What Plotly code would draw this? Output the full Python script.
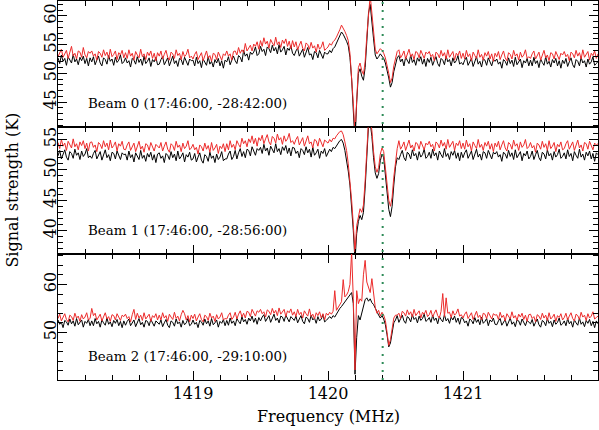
import plotly.graph_objects as go
from plotly.subplots import make_subplots

# ---- data -------------------------------------------------------------
FREQ_START = 1418.0
FREQ_STEP = 0.0125
N_CHAN = 321
FREQ = [round(FREQ_START + FREQ_STEP * i, 5) for i in range(N_CHAN)]

B0_BLACK = [
    52.7, 51.7, 53.2, 52.1, 52.6, 51.4, 52.9, 52.3, 51.8, 53.3, 52.0, 52.5, 51.5, 52.8, 52.2, 53.0, 51.7, 52.6, 51.3, 52.7,
    52.0, 52.9, 51.5, 52.3, 53.0, 51.8, 51.3, 52.7, 52.4, 51.6, 53.1, 52.1, 52.5, 51.4, 52.8, 51.9, 52.3, 53.2, 51.7, 52.0,
    52.7, 51.8, 52.2, 51.1, 52.6, 52.3, 51.6, 52.9, 51.9, 52.5, 51.4, 53.0, 51.7, 52.1, 52.7, 51.2, 52.4, 52.0, 52.8, 51.5,
    51.6, 52.4, 52.9, 51.5, 52.0, 52.7, 51.3, 52.3, 53.0, 51.7, 52.2, 51.2, 52.6, 52.4, 51.5, 52.8, 51.9, 51.4, 52.5, 52.2,
    52.3, 51.3, 52.8, 51.7, 52.2, 51.0, 52.5, 51.9, 51.4, 52.9, 51.6, 52.1, 51.1, 52.4, 51.8, 52.6, 51.3, 52.2, 50.9, 52.3,
    52.0, 52.9, 51.5, 52.3, 53.0, 52.2, 51.7, 53.1, 52.8, 52.0, 54.0, 53.0, 53.4, 52.3, 53.7, 53.3, 53.7, 54.6, 53.1, 53.4,
    54.7, 53.8, 54.2, 53.1, 54.6, 54.3, 53.6, 54.9, 53.9, 54.5, 53.4, 55.0, 53.7, 54.1, 54.7, 53.2, 54.4, 54.0, 54.8, 53.5,
    53.1, 53.9, 54.4, 53.0, 53.5, 54.2, 52.8, 53.8, 54.5, 53.2, 53.4, 52.4, 53.8, 53.6, 52.7, 54.0, 53.1, 52.6, 53.7, 53.4,
    53.4, 54.0, 53.6, 54.3, 54.6, 55.2, 55.8, 56.5, 57.2, 56.8, 56.3, 55.6, 54.8, 52.8, 49.0, 44.0, 38.0, 45.0, 50.0, 50.8,
    49.5, 48.8, 51.0, 55.5, 60.5, 62.0, 59.5, 56.0, 53.2, 52.5, 52.9, 53.4, 53.0, 52.6, 51.8, 50.6, 49.2, 47.6, 48.4, 50.3,
    51.6, 52.7, 53.1, 52.0, 52.5, 51.3, 52.8, 52.2, 51.7, 53.2, 51.9, 52.4, 51.4, 52.7, 52.1, 52.9, 51.6, 52.5, 51.2, 52.6,
    51.9, 52.8, 51.4, 52.2, 52.9, 51.7, 51.2, 52.6, 52.3, 51.5, 53.0, 52.0, 52.4, 51.3, 52.7, 51.8, 52.2, 53.1, 51.6, 51.9,
    51.5, 52.3, 52.8, 51.4, 51.9, 52.6, 51.2, 52.2, 52.9, 51.6, 52.1, 51.1, 52.5, 52.3, 51.4, 52.7, 51.8, 51.3, 52.4, 52.1,
    52.5, 51.6, 52.0, 50.9, 52.4, 52.1, 51.4, 52.7, 51.7, 52.3, 51.2, 52.8, 51.5, 51.9, 52.5, 51.0, 52.2, 51.8, 52.6, 51.3,
    52.3, 51.3, 52.8, 51.7, 52.2, 51.0, 52.5, 51.9, 51.4, 52.9, 51.6, 52.1, 51.1, 52.4, 51.8, 52.6, 51.3, 52.2, 50.9, 52.3,
    51.7, 52.6, 51.2, 52.0, 52.7, 51.5, 51.0, 52.4, 52.1, 51.3, 52.8, 51.8, 52.2, 51.1, 52.5, 51.6, 52.0, 52.9, 51.4, 51.7,
    52.1,
]
B0_RED = [
    52.9, 53.7, 54.2, 52.8, 53.3, 54.0, 52.6, 53.6, 54.7, 53.0, 53.5, 52.5, 53.9, 53.7, 52.8, 54.5, 53.2, 52.7, 53.8, 53.5,
    53.9, 53.0, 53.4, 52.3, 53.8, 53.5, 52.8, 54.1, 53.1, 53.7, 52.6, 54.2, 52.9, 53.3, 53.9, 52.4, 53.6, 53.2, 54.0, 52.7,
    53.6, 52.6, 54.1, 53.0, 53.5, 52.3, 53.8, 53.2, 52.7, 54.2, 52.9, 53.4, 52.4, 53.7, 53.1, 53.9, 52.6, 53.5, 52.2, 53.6,
    53.0, 53.9, 52.5, 53.3, 54.0, 52.8, 52.3, 53.7, 53.4, 52.6, 54.1, 53.1, 53.5, 52.4, 53.8, 52.9, 53.3, 54.2, 52.7, 53.0,
    52.5, 53.3, 53.8, 52.4, 52.9, 53.6, 52.2, 53.2, 53.9, 52.6, 53.1, 52.1, 53.5, 53.3, 52.4, 53.7, 52.8, 52.3, 53.4, 53.1,
    53.9, 53.0, 53.4, 52.3, 53.8, 53.9, 53.2, 54.5, 53.5, 54.1, 53.6, 55.2, 53.9, 54.3, 54.9, 53.9, 55.1, 54.7, 55.5, 54.2,
    55.7, 54.7, 56.2, 55.1, 55.6, 54.4, 55.9, 55.3, 54.8, 56.3, 55.0, 55.5, 54.5, 55.8, 55.2, 56.0, 54.7, 55.6, 54.3, 55.7,
    54.6, 55.5, 54.1, 54.9, 55.6, 54.4, 53.9, 55.3, 55.0, 54.2, 55.4, 54.4, 54.8, 53.7, 55.1, 54.2, 54.6, 55.5, 54.0, 54.3,
    54.6, 55.2, 54.9, 55.5, 55.8, 56.3, 56.9, 57.6, 58.4, 57.9, 57.3, 56.6, 55.7, 53.5, 49.8, 44.8, 39.5, 46.0, 51.0, 51.8,
    50.5, 49.8, 52.0, 56.5, 61.5, 63.6, 60.5, 57.0, 54.2, 53.4, 53.8, 54.3, 54.0, 53.5, 52.7, 51.5, 50.0, 48.4, 49.2, 51.3,
    52.6, 53.8, 54.1, 52.7, 53.2, 53.9, 52.5, 53.5, 54.2, 52.9, 53.4, 52.4, 53.8, 53.6, 52.7, 54.0, 53.1, 52.6, 53.7, 53.4,
    53.8, 52.9, 53.3, 52.2, 53.7, 53.4, 52.7, 54.0, 53.0, 53.6, 52.5, 54.1, 52.8, 53.2, 53.8, 52.3, 53.5, 53.1, 53.9, 52.6,
    53.5, 52.5, 54.0, 52.9, 53.4, 52.2, 53.7, 53.1, 52.6, 54.1, 52.8, 53.3, 52.3, 53.6, 53.0, 53.8, 52.5, 53.4, 52.1, 53.5,
    52.9, 53.8, 52.4, 53.2, 53.9, 52.7, 52.2, 53.6, 53.3, 52.5, 54.0, 53.0, 53.4, 52.3, 53.7, 52.8, 53.2, 54.1, 52.6, 52.9,
    52.6, 53.4, 53.9, 52.5, 53.0, 53.7, 52.3, 53.3, 54.0, 52.7, 53.2, 52.2, 53.6, 53.4, 52.5, 53.8, 52.9, 52.4, 53.5, 53.2,
    53.8, 52.9, 53.3, 52.2, 53.7, 53.4, 52.7, 54.0, 53.0, 53.6, 52.5, 54.1, 52.8, 53.2, 53.8, 52.3, 53.5, 53.1, 53.9, 52.6,
    53.4,
]
B1_BLACK = [
    52.3, 53.2, 51.8, 52.6, 53.3, 52.1, 51.6, 53.0, 52.7, 51.9, 53.4, 52.4, 52.8, 51.7, 53.1, 52.2, 52.6, 53.5, 52.0, 52.3,
    51.9, 52.7, 53.2, 51.8, 52.3, 53.0, 51.6, 52.6, 53.3, 52.0, 52.5, 51.5, 52.9, 52.7, 51.8, 53.1, 52.2, 51.7, 52.8, 52.5,
    52.6, 51.6, 53.1, 52.0, 52.5, 51.3, 52.8, 52.2, 51.7, 53.2, 51.9, 52.4, 51.4, 52.7, 52.1, 52.9, 51.6, 52.5, 51.2, 52.6,
    52.8, 51.9, 52.3, 51.2, 52.7, 52.4, 51.7, 53.0, 52.0, 52.6, 51.5, 53.1, 51.8, 52.2, 52.8, 51.3, 52.5, 52.1, 52.9, 51.6,
    51.8, 52.7, 51.3, 52.1, 52.8, 51.6, 51.1, 52.5, 52.2, 51.4, 52.9, 51.9, 52.3, 51.2, 52.6, 51.7, 52.1, 53.0, 51.5, 51.8,
    51.8, 52.6, 53.1, 51.7, 52.2, 53.2, 51.8, 52.8, 53.5, 52.2, 53.0, 52.0, 53.4, 53.2, 52.3, 53.8, 52.9, 52.4, 53.5, 53.2,
    53.7, 52.7, 54.2, 53.1, 53.6, 52.4, 53.9, 53.3, 52.8, 54.3, 53.0, 53.5, 52.5, 53.8, 53.2, 54.0, 52.7, 53.6, 52.3, 53.7,
    53.6, 52.7, 53.1, 52.0, 53.5, 53.2, 52.5, 53.8, 52.8, 53.4, 52.1, 53.7, 52.4, 52.8, 53.4, 51.9, 53.1, 52.7, 53.5, 52.2,
    52.9, 53.4, 53.0, 53.7, 53.5, 54.0, 54.3, 54.8, 55.0, 54.4, 53.2, 51.8, 49.8, 47.5, 44.0, 40.0, 35.0, 39.5, 41.5, 42.5,
    41.8, 43.0, 47.0, 52.5, 57.3, 57.8, 55.5, 52.0, 49.5, 48.6, 49.4, 51.5, 52.6, 52.0, 49.5, 46.5, 43.5, 42.3, 44.0, 47.5,
    50.5, 52.0, 51.7, 52.5, 53.2, 52.0, 51.5, 52.9, 52.6, 51.8, 53.3, 52.3, 52.7, 51.6, 53.0, 52.1, 52.5, 53.4, 51.9, 52.2,
    52.9, 51.9, 53.4, 52.3, 52.8, 51.6, 53.1, 52.5, 52.0, 53.5, 52.2, 52.7, 51.7, 53.0, 52.4, 53.2, 51.9, 52.8, 51.5, 52.9,
    52.0, 52.8, 53.3, 51.9, 52.4, 53.1, 51.7, 52.7, 53.4, 52.1, 52.6, 51.6, 53.0, 52.8, 51.9, 53.2, 52.3, 51.8, 52.9, 52.6,
    53.0, 52.1, 52.5, 51.4, 52.9, 52.6, 51.9, 53.2, 52.2, 52.8, 51.7, 53.3, 52.0, 52.4, 53.0, 51.5, 52.7, 52.3, 53.1, 51.8,
    52.2, 53.1, 51.7, 52.5, 53.2, 52.0, 51.5, 52.9, 52.6, 51.8, 53.3, 52.3, 52.7, 51.6, 53.0, 52.1, 52.5, 53.4, 51.9, 52.2,
    52.8, 51.8, 53.3, 52.2, 52.7, 51.5, 53.0, 52.4, 51.9, 53.4, 52.1, 52.6, 51.6, 52.9, 52.3, 53.1, 51.8, 52.7, 51.4, 52.8,
    52.5,
]
B1_RED = [
    54.5, 53.5, 55.0, 53.9, 54.4, 53.2, 54.7, 54.1, 53.6, 55.1, 53.8, 54.3, 53.3, 54.6, 54.0, 54.8, 53.5, 54.4, 53.1, 54.5,
    54.6, 53.7, 54.1, 53.0, 54.5, 54.2, 53.5, 54.8, 53.8, 54.4, 53.3, 54.9, 53.6, 54.0, 54.6, 53.1, 54.3, 53.9, 54.7, 53.4,
    53.3, 54.1, 54.6, 53.2, 53.7, 54.4, 53.0, 54.0, 54.7, 53.4, 53.9, 52.9, 54.3, 54.1, 53.2, 54.5, 53.6, 53.1, 54.2, 53.9,
    53.6, 54.5, 53.1, 53.9, 54.6, 53.4, 52.9, 54.3, 54.0, 53.2, 54.7, 53.7, 54.1, 53.0, 54.4, 53.5, 53.9, 54.8, 53.3, 53.6,
    54.2, 53.3, 53.7, 52.6, 54.1, 53.8, 53.1, 54.4, 53.4, 54.0, 52.9, 54.5, 53.2, 53.6, 54.2, 52.7, 53.9, 53.5, 54.3, 53.0,
    54.3, 53.3, 54.8, 53.7, 54.2, 53.3, 54.8, 54.2, 53.7, 55.2, 54.3, 54.8, 53.8, 55.1, 54.5, 55.6, 54.3, 55.2, 53.9, 55.3,
    54.8, 55.7, 54.3, 55.1, 55.8, 54.6, 54.1, 55.5, 55.2, 54.4, 55.9, 54.9, 55.3, 54.2, 55.6, 54.7, 55.1, 56.0, 54.5, 54.8,
    54.2, 55.0, 55.5, 54.1, 54.6, 55.3, 53.9, 54.9, 55.6, 54.3, 54.6, 53.6, 55.0, 54.8, 53.9, 55.2, 54.3, 53.8, 54.9, 54.6,
    54.4, 55.0, 54.6, 55.2, 55.1, 55.6, 55.9, 56.3, 56.4, 55.8, 54.6, 53.2, 51.0, 48.5, 45.0, 41.0, 36.5, 40.8, 42.6, 43.6,
    43.0, 44.2, 48.2, 53.8, 58.0, 58.5, 56.5, 53.0, 50.5, 49.6, 50.4, 52.6, 53.6, 53.0, 50.6, 47.8, 45.0, 44.0, 45.5, 48.8,
    51.8, 53.5, 54.8, 53.4, 53.9, 54.6, 53.2, 54.2, 54.9, 53.6, 54.1, 53.1, 54.5, 54.3, 53.4, 54.7, 53.8, 53.3, 54.4, 54.1,
    54.7, 53.8, 54.2, 53.1, 54.6, 54.3, 53.6, 54.9, 53.9, 54.5, 53.4, 55.0, 53.7, 54.1, 54.7, 53.2, 54.4, 54.0, 54.8, 53.5,
    54.4, 53.4, 54.9, 53.8, 54.3, 53.1, 54.6, 54.0, 53.5, 55.0, 53.7, 54.2, 53.2, 54.5, 53.9, 54.7, 53.4, 54.3, 53.0, 54.4,
    53.8, 54.7, 53.3, 54.1, 54.8, 53.6, 53.1, 54.5, 54.2, 53.4, 54.9, 53.9, 54.3, 53.2, 54.6, 53.7, 54.1, 55.0, 53.5, 53.8,
    54.5, 53.6, 54.0, 52.9, 54.4, 54.1, 53.4, 54.7, 53.7, 54.3, 53.2, 54.8, 53.5, 53.9, 54.5, 53.0, 54.2, 53.8, 54.6, 53.3,
    53.5, 54.3, 54.8, 53.4, 53.9, 54.6, 53.2, 54.2, 54.9, 53.6, 54.1, 53.1, 54.5, 54.3, 53.4, 54.7, 53.8, 53.3, 54.4, 54.1,
    54.3,
]
B2_BLACK = [
    52.6, 51.7, 52.1, 51.0, 52.5, 52.2, 51.5, 52.8, 51.8, 52.4, 51.3, 52.9, 51.6, 52.0, 52.6, 51.1, 52.3, 51.9, 52.7, 51.4,
    52.4, 51.4, 52.9, 51.8, 52.3, 51.1, 52.6, 52.0, 51.5, 53.0, 51.7, 52.2, 51.2, 52.5, 51.9, 52.7, 51.4, 52.3, 51.0, 52.4,
    51.5, 52.3, 52.8, 51.4, 51.9, 52.6, 51.2, 52.2, 52.9, 51.6, 52.1, 51.1, 52.5, 52.3, 51.4, 52.7, 51.8, 51.3, 52.4, 52.1,
    51.7, 52.6, 51.2, 52.0, 52.7, 51.5, 51.0, 52.4, 52.1, 51.3, 52.8, 51.8, 52.2, 51.1, 52.5, 51.6, 52.0, 52.9, 51.4, 51.7,
    52.6, 51.7, 52.1, 51.0, 52.5, 52.2, 51.5, 52.8, 51.8, 52.4, 51.3, 52.9, 51.6, 52.0, 52.6, 51.1, 52.3, 51.9, 52.7, 51.4,
    52.5, 51.5, 53.0, 51.9, 52.4, 51.4, 52.9, 52.3, 51.8, 53.3, 52.2, 52.7, 51.7, 53.0, 52.4, 53.4, 52.1, 53.0, 51.7, 53.1,
    52.4, 53.2, 53.7, 52.3, 52.8, 53.5, 52.1, 53.1, 53.8, 52.5, 53.0, 52.0, 53.4, 53.2, 52.3, 53.6, 52.7, 52.2, 53.3, 53.0,
    52.5, 53.4, 52.0, 52.8, 53.5, 52.3, 51.8, 53.2, 52.9, 52.1, 53.6, 52.6, 53.0, 51.9, 53.3, 52.4, 52.8, 53.7, 52.2, 52.5,
    52.8, 53.3, 52.9, 53.5, 53.2, 53.9, 54.5, 55.0, 55.4, 55.9, 56.4, 56.8, 57.4, 58.0, 58.3, 56.0, 41.3, 49.0, 53.5, 52.6,
    54.0, 55.5, 56.8, 57.2, 56.5, 57.0, 56.2, 55.8, 55.0, 54.2, 53.6, 53.0, 53.5, 52.8, 51.6, 49.5, 47.0, 47.8, 50.0, 52.0,
    52.6, 53.5, 52.1, 52.9, 53.6, 52.4, 51.9, 53.3, 53.0, 52.2, 53.7, 52.7, 53.1, 52.0, 53.4, 52.5, 52.9, 53.8, 52.3, 52.6,
    53.1, 52.1, 53.6, 52.5, 53.0, 51.8, 53.3, 52.7, 52.2, 53.7, 52.4, 52.9, 51.9, 53.2, 52.6, 53.4, 52.1, 53.0, 51.7, 53.1,
    52.9, 52.0, 52.4, 51.3, 52.8, 52.5, 51.8, 53.1, 52.1, 52.7, 51.6, 53.2, 51.9, 52.3, 52.9, 51.4, 52.6, 52.2, 53.0, 51.7,
    51.6, 52.4, 52.9, 51.5, 52.0, 52.7, 51.3, 52.3, 53.0, 51.7, 52.2, 51.2, 52.6, 52.4, 51.5, 52.8, 51.9, 51.4, 52.5, 52.2,
    51.8, 52.7, 51.3, 52.1, 52.8, 51.6, 51.1, 52.5, 52.2, 51.4, 52.9, 51.9, 52.3, 51.2, 52.6, 51.7, 52.1, 53.0, 51.5, 51.8,
    52.4, 51.4, 52.9, 51.8, 52.3, 51.1, 52.6, 52.0, 51.5, 53.0, 51.7, 52.2, 51.2, 52.5, 51.9, 52.7, 51.4, 52.3, 51.0, 52.4,
    51.8,
]
B2_RED = [
    52.9, 53.8, 52.4, 53.2, 53.9, 52.7, 52.2, 53.6, 53.3, 52.5, 54.0, 53.0, 53.4, 52.3, 53.7, 52.8, 53.2, 54.1, 52.6, 52.9,
    55.0, 53.5, 54.0, 52.6, 53.1, 53.8, 52.4, 53.4, 54.1, 52.8, 53.3, 52.3, 53.7, 53.5, 52.6, 53.9, 53.0, 52.5, 53.6, 53.3,
    53.8, 52.9, 53.3, 52.2, 53.7, 54.8, 52.7, 54.0, 53.0, 53.6, 52.5, 54.1, 52.8, 53.2, 53.8, 52.3, 53.5, 53.1, 53.9, 52.6,
    53.6, 52.6, 54.1, 53.0, 53.5, 52.3, 53.8, 53.2, 52.7, 54.2, 52.9, 53.4, 52.4, 53.7, 54.6, 53.9, 52.6, 53.5, 52.2, 53.6,
    52.9, 53.8, 52.4, 53.2, 53.9, 52.7, 52.2, 53.6, 53.3, 52.5, 54.0, 53.0, 53.4, 52.3, 53.7, 52.8, 53.2, 54.1, 52.6, 52.9,
    52.8, 53.6, 54.1, 52.7, 53.2, 54.2, 52.8, 53.8, 54.5, 53.2, 54.0, 53.0, 54.4, 54.2, 53.3, 54.8, 53.9, 53.4, 54.5, 54.2,
    54.8, 53.9, 54.3, 53.2, 54.7, 54.4, 53.7, 55.0, 54.0, 54.6, 53.5, 55.1, 53.8, 54.2, 54.8, 53.3, 54.5, 54.1, 54.9, 53.6,
    54.3, 53.3, 54.8, 53.7, 54.2, 53.0, 54.5, 53.9, 53.4, 54.9, 53.3, 53.8, 52.8, 54.1, 53.5, 54.3, 53.0, 53.9, 52.6, 54.0,
    53.6, 54.2, 53.8, 54.4, 58.7, 54.6, 55.2, 55.8, 56.4, 61.0, 57.4, 57.8, 58.5, 60.0, 66.8, 57.0, 42.2, 58.7, 56.0, 57.0,
    56.5, 62.0, 65.0, 60.5, 59.2, 58.3, 61.2, 57.5, 55.2, 54.0, 54.6, 53.4, 54.2, 53.6, 52.5, 50.0, 47.3, 48.5, 51.0, 53.0,
    53.6, 53.6, 54.0, 52.9, 54.4, 54.1, 53.4, 54.7, 53.7, 54.3, 53.2, 54.8, 53.5, 53.9, 54.5, 53.0, 54.2, 53.8, 54.6, 53.3,
    53.7, 54.6, 53.2, 54.0, 54.7, 53.5, 53.0, 54.4, 58.1, 53.3, 57.2, 54.0, 54.2, 53.1, 54.5, 53.6, 54.0, 54.9, 53.4, 53.7,
    53.0, 53.8, 54.3, 52.9, 53.4, 54.1, 52.7, 53.7, 54.4, 53.1, 53.6, 52.6, 54.0, 53.8, 52.9, 54.2, 53.3, 52.8, 53.9, 53.6,
    53.7, 52.7, 54.2, 53.1, 53.6, 52.4, 53.9, 53.3, 52.8, 54.3, 53.0, 53.5, 52.5, 53.8, 53.2, 54.0, 52.7, 53.6, 52.3, 53.7,
    53.8, 52.9, 53.3, 52.2, 53.7, 53.4, 52.7, 54.0, 53.0, 53.6, 52.5, 54.1, 52.8, 53.2, 53.8, 52.3, 53.5, 53.1, 53.9, 52.6,
    53.1, 54.0, 52.6, 53.4, 54.1, 52.9, 52.4, 53.8, 53.5, 52.7, 54.2, 53.2, 53.6, 52.5, 53.9, 53.0, 53.4, 54.3, 52.8, 53.1,
    53.4,
]

BEAM_LABELS = [
    "Beam 0 (17:46:00, -28:42:00)",
    "Beam 1 (17:46:00, -28:56:00)",
    "Beam 2 (17:46:00, -29:10:00)",
]
X_TICKS = [1419, 1420, 1421]
Y_RANGES = [[40.6, 62.6], [36.2, 57.0], [40.1, 66.4]]
Y_TICKS = [[45, 50, 55, 60], [40, 45, 50, 55], [50, 60]]
Y_MINOR = [1, 1, 2]
REST_FREQ = 1420.405
X_RANGE = [1418.0, 1422.0]

# ---- figure -----------------------------------------------------------
FONT = "DejaVu Serif"
RED = "#ec2b2b"
DOMAINS = [[2 / 3, 1.0], [1 / 3, 2 / 3], [0.0, 1 / 3]]

fig = make_subplots(rows=3, cols=1, shared_xaxes=True, vertical_spacing=0)

series = [(B0_BLACK, B0_RED), (B1_BLACK, B1_RED), (B2_BLACK, B2_RED)]
for r, (blk, red) in enumerate(series, start=1):
    fig.add_trace(go.Scatter(x=FREQ, y=blk, mode="lines",
                             line=dict(color="black", width=1),
                             showlegend=False, hoverinfo="skip"), row=r, col=1)
    fig.add_trace(go.Scatter(x=FREQ, y=red, mode="lines",
                             line=dict(color=RED, width=1),
                             showlegend=False, hoverinfo="skip"), row=r, col=1)

axis_common = dict(showline=True, linecolor="black", linewidth=1,
                   mirror="ticks", ticks="inside", ticklen=9, tickwidth=1.2,
                   tickcolor="black", showgrid=False, zeroline=False,
                   automargin=False,
                   tickfont=dict(family=FONT, size=16, color="black"))

for r in range(1, 4):
    fig.update_xaxes(range=X_RANGE, tickvals=X_TICKS,
                     showticklabels=(r == 3), ticklabelstandoff=-1,
                     minor=dict(dtick=0.2, tick0=1418, ticks="inside", ticklen=5,
                                tickcolor="black", tickwidth=1, showgrid=False),
                     **axis_common, row=r, col=1)
    fig.update_yaxes(range=Y_RANGES[r - 1], tickvals=Y_TICKS[r - 1],
                     tickangle=-90, domain=DOMAINS[r - 1],
                     ticklabelstandoff=-5,
                     minor=dict(dtick=Y_MINOR[r - 1], tick0=0, ticks="inside",
                                ticklen=5, tickcolor="black", tickwidth=1,
                                showgrid=False),
                     **axis_common, row=r, col=1)

# dotted rest-frequency line across all panels
fig.add_shape(type="line", xref="x", yref="paper", x0=REST_FREQ, x1=REST_FREQ,
              y0=0, y1=1, line=dict(color="#2e8b57", width=2, dash="2px,6px"),
              layer="above")

# beam labels
for r, txt in enumerate(BEAM_LABELS, start=1):
    sfx = "" if r == 1 else str(r)
    fig.add_annotation(text=txt, xref=f"x{sfx} domain", yref=f"y{sfx} domain",
                       x=0.052, y=0.185, xanchor="left", yanchor="middle",
                       showarrow=False,
                       font=dict(family=FONT, size=13.4, color="black"))

fig.add_annotation(text="Signal strength (K)", xref="paper", yref="paper",
                   x=-0.085, y=0.5, xanchor="center", yanchor="middle",
                   textangle=-90, showarrow=False,
                   font=dict(family=FONT, size=16, color="black"))
fig.add_annotation(text="Frequency (MHz)", xref="paper", yref="paper",
                   x=0.5, y=-0.095, xanchor="center", yanchor="middle",
                   showarrow=False,
                   font=dict(family=FONT, size=16, color="black"))

fig.update_layout(width=599, height=430,
                  margin=dict(l=58, r=1, t=1, b=50, autoexpand=False),
                  paper_bgcolor="white", plot_bgcolor="white",
                  font=dict(family=FONT, color="black"))

fig.write_html("out.html", config={"displayModeBar": False},
               post_script="document.body.style.margin='0px';"
                           "document.body.style.padding='0px';")
